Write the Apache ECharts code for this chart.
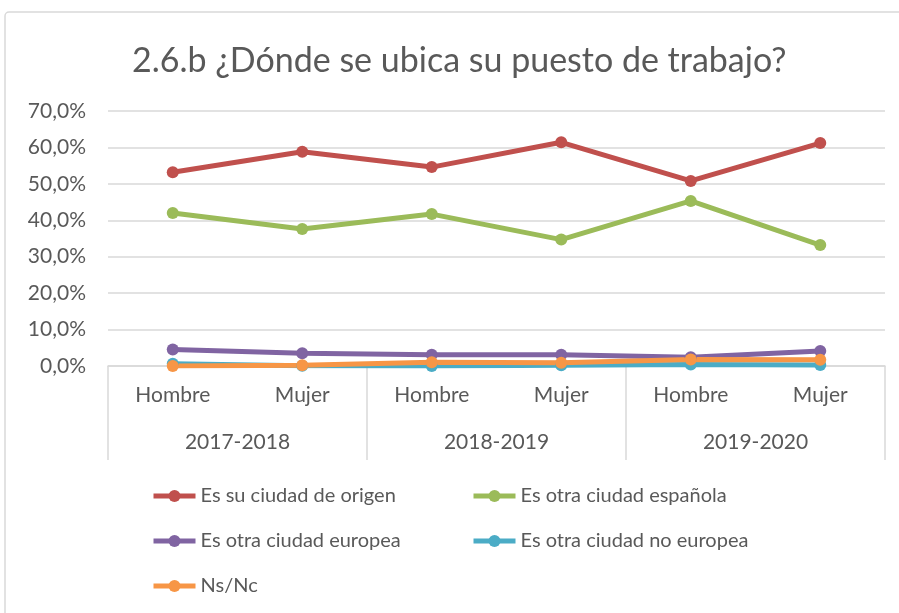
<!DOCTYPE html>
<html>
<head>
<meta charset="utf-8">
<script src="https://cdn.jsdelivr.net/npm/echarts@6/dist/echarts.min.js"></script>
<style>
  html, body { margin: 0; padding: 0; background: #fff; }
  #chart { width: 899px; height: 613px; }
</style>
</head>
<body>
<div id="chart"></div>
<script>
var sexes = ['Hombre', 'Mujer', 'Hombre', 'Mujer', 'Hombre', 'Mujer']
var years = ['2017-2018', '2018-2019', '2019-2020']
var origen = [53.2, 58.8, 54.6, 61.4, 50.8, 61.2]
var espanola = [42.0, 37.6, 41.7, 34.7, 45.3, 33.2]
var europea = [4.5, 3.5, 3.1, 3.1, 2.4, 4.1]
var noEuropea = [0.6, 0.1, 0.0, 0.2, 0.4, 0.3]
var nsnc = [0.0, 0.2, 1.0, 0.9, 1.8, 1.7]

var txt = '#595959'
var font = 'Lato'
var Chart = echarts.init(document.getElementById('chart'))

var mkSeries = (name, data, color) => ({
    name: name,
    type: 'line',
    data: data,
    xAxisIndex: 0,
    symbol: 'circle',
    symbolSize: 12,
    lineStyle: { width: 5, color: color },
    itemStyle: { color: color },
    emphasis: { disabled: true }
})

var legendBase = {
    orient: 'vertical',
    itemWidth: 42,
    itemHeight: 15,
    itemGap: 25,
    lineStyle: { width: 5 },
    textStyle: { fontSize: 20, color: txt, fontFamily: font }
}

var option = {
    animation: false,
    textStyle: { fontFamily: font },
    title: {
        text: '2.6.b ¿Dónde se ubica su puesto de trabajo?',
        left: 127,
        top: 39,
        textStyle: { fontSize: 34, fontWeight: 'normal', color: txt, fontFamily: font }
    },
    graphic: [{
        type: 'rect',
        shape: { x: 5, y: 12, width: 900, height: 610, r: 4 },
        style: { fill: 'none', stroke: '#d9d9d9', lineWidth: 1.5 },
        silent: true
    }],
    grid: { left: 108, right: 14, top: 111, bottom: 247 },
    legend: [
        Object.assign({ left: 146, top: 481, data: ['Es su ciudad de origen', 'Es otra ciudad europea', 'Ns/Nc'] }, legendBase),
        Object.assign({ left: 466, top: 481, data: ['Es otra ciudad española', 'Es otra ciudad no europea'] }, legendBase)
    ],
    xAxis: [
        {
            type: 'category',
            data: sexes,
            position: 'bottom',
            axisLine: { show: true, lineStyle: { color: '#d9d9d9', width: 1.5 } },
            axisTick: { show: false },
            axisLabel: { color: txt, fontSize: 21, margin: 19, fontFamily: font }
        },
        {
            type: 'category',
            data: years,
            position: 'bottom',
            axisLine: { show: false },
            axisTick: { show: true, length: 94, lineStyle: { color: '#d9d9d9', width: 1.5 } },
            axisLabel: { color: txt, fontSize: 21, margin: 66, fontFamily: font }
        }
    ],
    yAxis: {
        type: 'value',
        min: 0,
        max: 70,
        interval: 10,
        axisLine: { show: false },
        axisTick: { show: false },
        splitLine: { lineStyle: { color: '#d9d9d9', width: 1.5 } },
        axisLabel: {
            color: txt,
            fontSize: 21,
            margin: 22,
            fontFamily: font,
            formatter: v => v.toFixed(1).replace('.', ',') + '%'
        }
    },
    series: [
        mkSeries('Es su ciudad de origen', origen, '#C0504D'),
        mkSeries('Es otra ciudad española', espanola, '#9BBB59'),
        mkSeries('Es otra ciudad europea', europea, '#8064A2'),
        mkSeries('Es otra ciudad no europea', noEuropea, '#4BACC6'),
        mkSeries('Ns/Nc', nsnc, '#F79646')
    ]
}
Chart.setOption(option)
</script>
</body>
</html>
